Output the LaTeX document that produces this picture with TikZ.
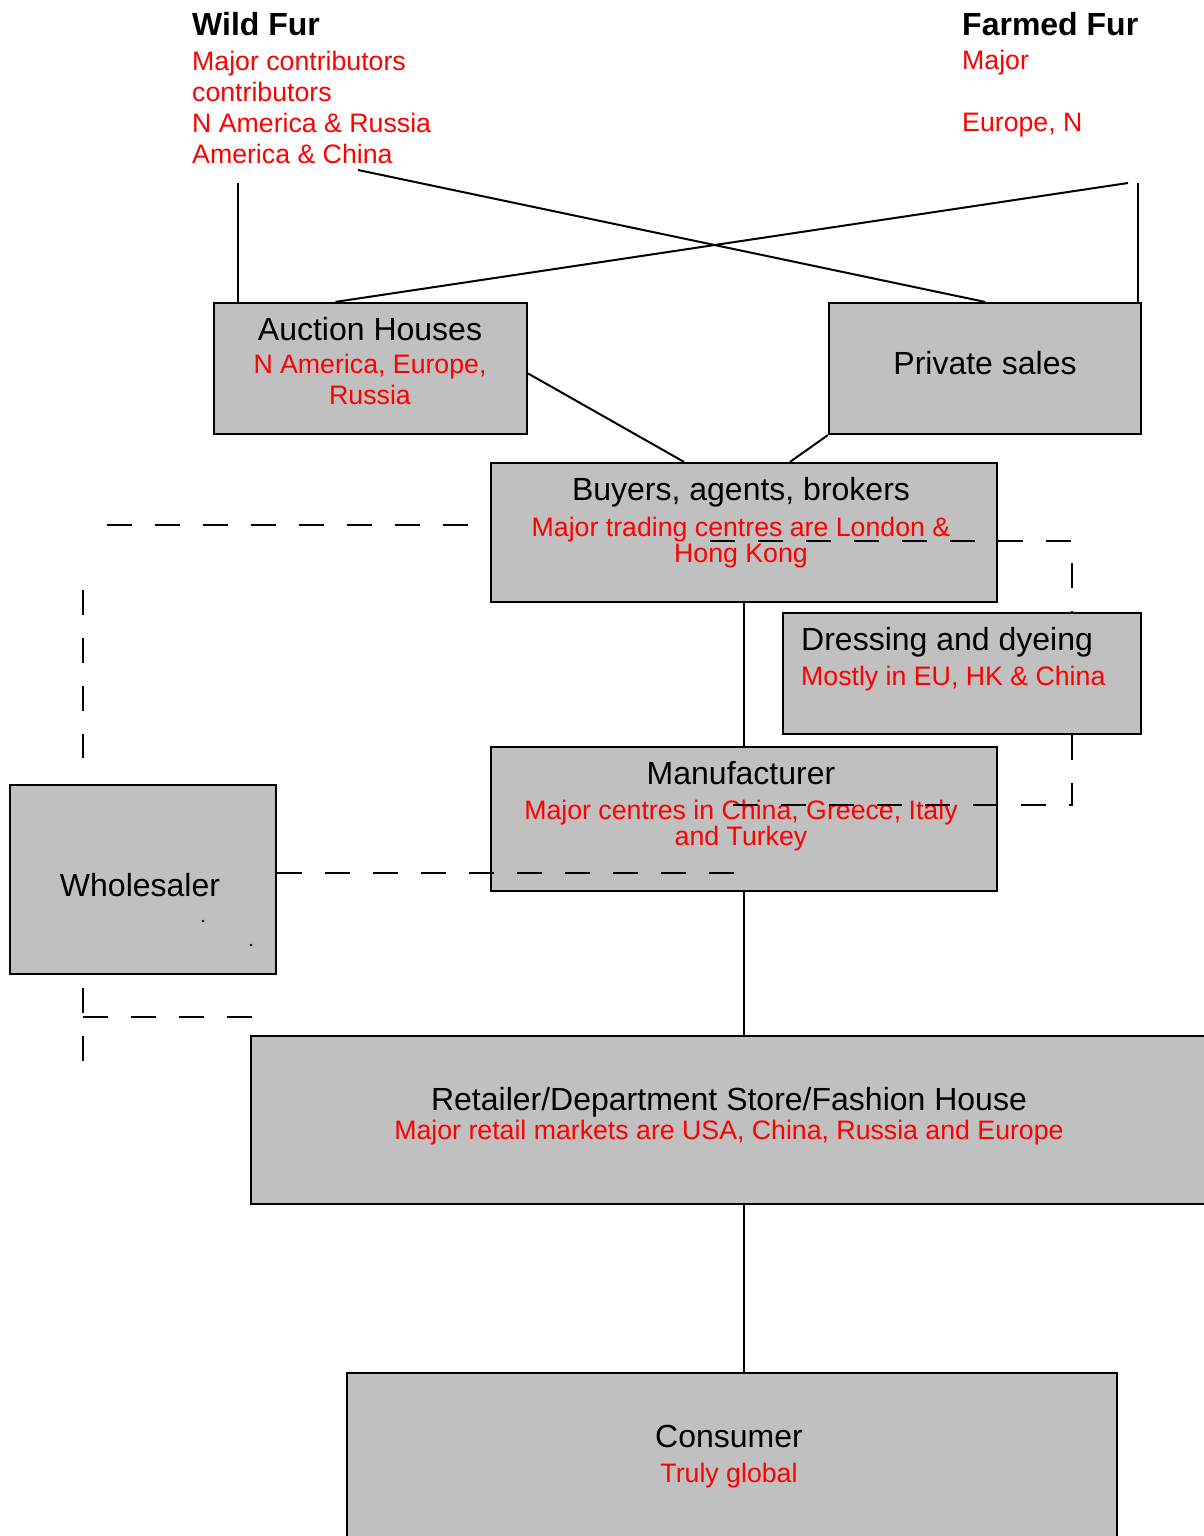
\documentclass[tikz,border=0pt]{standalone}
\usepackage{fontspec}
\setmainfont{Liberation Sans}
\usetikzlibrary{positioning,calc}
\definecolor{boxgray}{RGB}{192,192,192}
\tikzset{
  furbox/.style={draw=black,fill=boxgray,line width=2.2pt,inner sep=0pt},
  furline/.style={line width=2pt},
  furdash/.style={line width=2pt,dash pattern=on 25pt off 23pt},
  boxtitle/.style={font=\fontsize{32}{37}\selectfont,inner sep=0pt,anchor=base},
  redtext/.style={text=red,font=\fontsize{26.7}{31}\selectfont,inner sep=0pt,align=center,anchor=base},
  redtight/.style={redtext,font=\fontsize{26.7}{26.5}\selectfont},
  sourcehead/.style={font=\bfseries\fontsize{32}{37}\selectfont,inner sep=0pt,anchor=base west}
}
\begin{document}
\begin{tikzpicture}[x=1pt,y=-1pt]
  \useasboundingbox (0,0) rectangle (1204,1536);
  % sources (base of a block = base of its last line)
  \node[sourcehead] (wildhead) at (192,35.5) {Wild Fur};
  \node[redtext,align=left,anchor=base west] (wildsrc) at (192,163.5)
    {Major contributors\\contributors\\N America \& Russia\\America \& China};
  \node[sourcehead] (farmhead) at (962,35.5) {Farmed Fur};
  \node[redtext,align=left,anchor=base west] (farmsrc) at (962,131.5)
    {Major\\\mbox{}\\Europe, N};
  % boxes
  \node[furbox,minimum width=313,minimum height=131] (auction) at (370.5,368.5) {};
  \node[furbox,minimum width=312,minimum height=131] (private) at (985,368.5) {};
  \node[furbox,minimum width=506,minimum height=139] (buyers) at (744,532.5) {};
  \node[furbox,minimum width=358,minimum height=121] (dressing) at (962,673.5) {};
  \node[furbox,minimum width=506,minimum height=144] (manufacturer) at (744,819) {};
  \node[furbox,minimum width=266,minimum height=189] (wholesaler) at (143,879.5) {};
  \node[furbox,minimum width=989,minimum height=168] (retailer) at (745.5,1120) {};
  \node[furbox,minimum width=770,minimum height=187] (consumer) at (732,1466.5) {};
  % connectors
  \coordinate (wildleg) at (238,183);
  \coordinate (wildtail) at (358,170);
  \coordinate (farmtail) at (1128,183);
  \coordinate (farmleg) at (1138,183);
  \draw[furline] (wildleg) -- (wildleg |- auction.north);
  \draw[furline] (wildtail) -- (private.north);
  \draw[furline] (farmtail) -- ($(auction.north)+(-35,0)$);
  \draw[furline] (farmleg) -- (farmleg |- private.north);
  \draw[furline] ($(auction.east)+(0,5)$) -- ($(buyers.north)+(-60,0)$);
  \draw[furline] (private.south west) -- ($(buyers.north)+(46,0)$);
  \draw[furline] (buyers.south) -- (manufacturer.north);
  \draw[furline] (manufacturer.south) -- (manufacturer.south |- retailer.north);
  \draw[furline] (retailer.south -| buyers.south) -- (buyers.south |- consumer.north);
  % texts in boxes
  \node[boxtitle] (auctiontitle) at (370,340.5) {Auction Houses};
  \node[redtext] (auctionnote) at (370,404.5) {N America, Europe,\\Russia};
  \node[boxtitle] (privatetitle) at (985,374.5) {Private sales};
  \node[boxtitle] (buyerstitle) at (741,500.5) {Buyers, agents, brokers};
  \node[redtight] (buyersnote) at (741,562.5) {Major trading centres are London \&\\Hong Kong};
  \node[boxtitle,anchor=base west] (dressingtitle) at (801,650.5) {Dressing and dyeing};
  \node[redtext,anchor=base west] (dressingnote) at (801,685.5) {Mostly in EU, HK \& China};
  \node[boxtitle] (manutitle) at (741,784.5) {Manufacturer};
  \node[redtight] (manunote) at (741,845.5) {Major centres in China, Greece, Italy\\and Turkey};
  \node[boxtitle] (wholetitle) at (140,896.5) {Wholesaler};
  \fill (203,921) circle (1.3pt) (251,945) circle (1.3pt);
  \node[boxtitle] (retailtitle) at (729,1110.5) {Retailer/Department Store/Fashion House};
  \node[redtext] (retailnote) at (729,1139.5) {Major retail markets are USA, China, Russia and Europe};
  \node[boxtitle] (consumertitle) at (729,1447.5) {Consumer};
  \node[redtext] (consumernote) at (729,1482.5) {Truly global};
  % dashed trade routes
  \coordinate (dyeturn) at (1072,541);
  \coordinate (dyeback) at (1072,805);
  \coordinate (wholetie) at (735,873);
  \draw[furdash] (710,541) -- (dyeturn) -- (dyeturn |- dressing.north);
  \draw[furdash] (dyeback |- dressing.south) -- (dyeback) -- (710,805);
  \draw[furdash] (wholetie -| wholesaler.east) -- (wholetie);
  \draw[furdash] (107,525) -- (470,525);
  \draw[furdash] (83,590) -- (83,758);
  \draw[furdash] (83,988) -- (83,1062);
  \draw[furdash] (83,1017) -- (252,1017);
\end{tikzpicture}
\end{document}
